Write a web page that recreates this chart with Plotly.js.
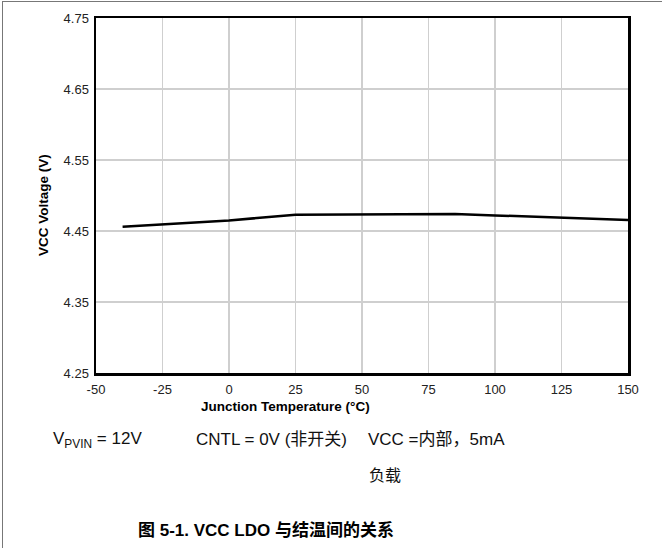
<!DOCTYPE html>
<html>
<head>
<meta charset="utf-8">
<script src="https://cdn.plot.ly/plotly-3.0.1.min.js"></script>
<style>
html,body{margin:0;padding:0;background:#fff;}
#wrap{position:relative;width:662px;height:548px;}
#chart{width:662px;height:548px;}
#frame{position:absolute;left:2px;top:1px;width:670px;height:560px;border-left:1.5px solid #777;border-top:1.5px solid #777;pointer-events:none;}
</style>
</head>
<body>
<div id="wrap"><div id="chart"></div><div id="frame"></div></div>
<script>
const temperature = [-40, 0, 25, 85, 100, 125, 150];
const vccVoltage = [4.456, 4.4648, 4.473, 4.474, 4.472, 4.469, 4.4655];
const xTicks = [-50, -25, 0, 25, 50, 75, 100, 125, 150];
const yTicks = [4.25, 4.35, 4.45, 4.55, 4.65, 4.75];

const F = 'Liberation Sans, Arial, Noto Sans CJK SC, sans-serif';
const L = 96, R = 628, T = 18, B = 373;
const px = x => (x - L) / (R - L);
const py = y => (B - y) / (B - T);

const trace = {
  x: temperature, y: vccVoltage, type: 'scatter', mode: 'lines',
  line: {color: '#000', width: 2.5}, hoverinfo: 'skip'
};

const layout = {
  width: 662, height: 548,
  margin: {l: L, r: 662 - R, t: T, b: 548 - B},
  paper_bgcolor: '#fff', plot_bgcolor: '#fff',
  showlegend: false,
  font: {family: F, color: '#222'},
  xaxis: {
    range: [-50, 150], tickvals: xTicks, ticktext: xTicks.map(String),
    showgrid: true, gridcolor: '#cfcfcf', gridwidth: 1.2,
    showline: true, linecolor: '#000', linewidth: 2.5, mirror: true,
    ticks: '', zeroline: false, tickfont: {size: 13, color: '#222'},
    ticklabelstandoff: 3
  },
  yaxis: {
    range: [4.25, 4.75], tickvals: yTicks, ticktext: yTicks.map(v => v.toFixed(2)),
    showgrid: true, gridcolor: '#cfcfcf', gridwidth: 1.2,
    showline: true, linecolor: '#000', linewidth: 2.5, mirror: true,
    ticks: '', zeroline: false, tickfont: {size: 13, color: '#222'},
    ticklabelstandoff: 2
  },
  annotations: [
    {xref: 'paper', yref: 'paper', x: px(43), y: py(205), text: '<b>VCC Voltage (V)</b>', textangle: -90,
     showarrow: false, xanchor: 'center', yanchor: 'middle', font: {size: 13.5, color: '#000'}},
    {xref: 'paper', yref: 'paper', x: px(285), y: py(406), text: '<b>Junction Temperature (°C)</b>',
     showarrow: false, xanchor: 'center', yanchor: 'middle', font: {size: 13.5, color: '#000'}},
    {xref: 'paper', yref: 'paper', x: px(51), y: py(440), text: 'V<sub>PVIN</sub> = 12V',
     showarrow: false, xanchor: 'left', yanchor: 'middle', font: {size: 17, color: '#111'}},
    {xref: 'paper', yref: 'paper', x: px(194), y: py(439), text: 'CNTL = 0V (非开关)',
     showarrow: false, xanchor: 'left', yanchor: 'middle', font: {size: 17, color: '#111'}},
    {xref: 'paper', yref: 'paper', x: px(366), y: py(439), text: 'VCC =内部，5mA',
     showarrow: false, xanchor: 'left', yanchor: 'middle', font: {size: 17, color: '#111'}},
    {xref: 'paper', yref: 'paper', x: px(367), y: py(475), text: '负载',
     showarrow: false, xanchor: 'left', yanchor: 'middle', font: {size: 16, color: '#111'}},
    {xref: 'paper', yref: 'paper', x: px(266), y: py(530), text: '<b>图 5-1. VCC LDO 与结温间的关系</b>',
     showarrow: false, xanchor: 'center', yanchor: 'middle', font: {size: 17, color: '#000'}}
  ]
};

Plotly.newPlot('chart', [trace], layout, {staticPlot: true, displayModeBar: false});
</script>
</body>
</html>
